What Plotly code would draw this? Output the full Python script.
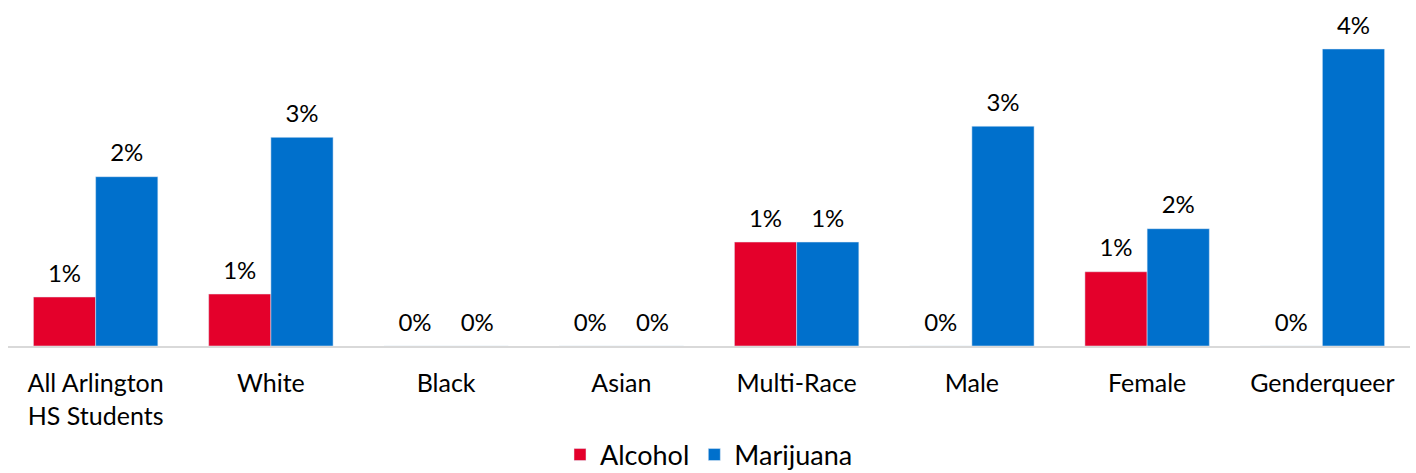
import plotly.graph_objects as go

categories = ["All Arlington<br>HS Students", "White", "Black", "Asian", "Multi-Race", "Male", "Female", "Genderqueer"]
alcohol = [0.66, 0.70, 0.0, 0.0, 1.40, 0.0, 1.00, 0.0]
marijuana = [2.28, 2.81, 0.0, 0.0, 1.40, 2.96, 1.58, 4.0]

FONT = "Lato"
LABEL_TPL = "<span style='font-size:24px'>%{y:.0f}%</span><br> "

fig = go.Figure()
fig.add_trace(go.Bar(name="Alcohol", x=categories, y=alcohol, marker_color="#E4002B",
                     texttemplate=LABEL_TPL, textposition="outside", cliponaxis=False,
                     textfont=dict(size=8, color="#000000", family=FONT)))
fig.add_trace(go.Bar(name="Marijuana", x=categories, y=marijuana, marker_color="#0070CC",
                     texttemplate=LABEL_TPL, textposition="outside", cliponaxis=False,
                     textfont=dict(size=8, color="#000000", family=FONT)))

fig.update_layout(
    width=1416, height=473,
    barmode="group", bargap=0.29, bargroupgap=0,
    margin=dict(l=8, r=6, t=10, b=127, autoexpand=False),
    plot_bgcolor="white", paper_bgcolor="white",
    font=dict(family=FONT, size=24, color="#000000"),
    showlegend=True,
    legend=dict(orientation="h", x=0.5, xanchor="center", xref="paper",
                y=18 / 473, yanchor="middle", yref="container",
                font=dict(size=27, family=FONT), itemwidth=30, tracegroupgap=0),
    uniformtext=dict(mode=False),
)
fig.update_xaxes(showline=True, linecolor="#D9D9D9", linewidth=2, showgrid=False,
                 ticks="", tickfont=dict(size=25, family=FONT), automargin=False,
                 ticklabelstandoff=14)
fig.update_yaxes(visible=False, range=[0, 4.525], showgrid=False, zeroline=False)

fig.write_html("out.html")
